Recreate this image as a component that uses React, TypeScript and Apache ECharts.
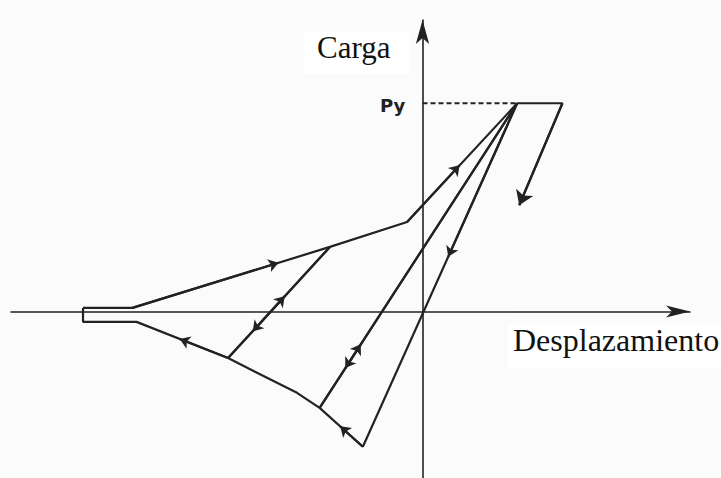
import React, { useEffect, useRef } from "react";
import * as echarts from "echarts";

// Data-space points (displacement, load); Py = 10
const upperEnvelope: number[][] = [[-16.5, 0.17], [-14.1, 0.17], [-4.5, 3.1], [-0.75, 4.3], [4.6, 10]];
const lowerEnvelope: number[][] = [[-16.5, 0.17], [-16.5, -0.5], [-13.9, -0.5], [-9.45, -2.24], [-6.1, -3.91], [-5.0, -4.63], [-2.9, -6.5]];
const reloadA: number[][] = [[-9.45, -2.24], [-4.5, 3.1]];
const reloadB: number[][] = [[-5.0, -4.63], [4.6, 10]];
const reloadC: number[][] = [[-2.9, -6.5], [4.6, 10]];
const yieldPlateau: number[][] = [[4.6, 10], [6.8, 10], [4.7, 5.1]];
const pyLevel: number[][] = [[0, 10], [4.6, 10]];
// arrows: [tail, head]
const arrowMarks: number[][][] = [
  [[-14.1, 0.17], [-7.0, 2.34]],
  [[-0.75, 4.3], [1.8, 7.02]],
  [[-9.45, -2.24], [-6.7, 0.73]],
  [[-4.5, 3.1], [-8.25, -0.95]],
  [[-5.0, -4.63], [-3.0, -1.58]],
  [[4.6, 10], [-3.75, -2.72]],
  [[4.6, 10], [1.25, 2.63]],
  [[-9.45, -2.24], [-11.8, -1.32]],
  [[-2.9, -6.5], [-4.0, -5.52]],
];
const dropArrow: number[][][] = [[[6.8, 10], [4.7, 5.1]]];

const INK = "#222222";

export default function App() {
  const ref = useRef<HTMLDivElement>(null);
  useEffect(() => {
    const chart = echarts.init(ref.current!, null, { renderer: "svg" });
    const plain = (data: number[][], dashed = false) => ({
      type: "line",
      data,
      showSymbol: false,
      symbol: "none",
      silent: true,
      lineStyle: { color: INK, width: 2.2, type: dashed ? [5, 3] : "solid" },
    });
    chart.setOption({
      animation: false,
      backgroundColor: "#fbfbfb",
      grid: { left: 11, right: 31, top: 20, bottom: 0 },
      xAxis: {
        type: "value",
        min: -20,
        max: 13,
        axisLine: { onZero: true, symbol: ["none", "arrow"], symbolSize: [9, 24], lineStyle: { color: INK, width: 1.6 } },
        axisTick: { show: false },
        axisLabel: { show: false },
        splitLine: { show: false },
      },
      yAxis: {
        type: "value",
        min: -8,
        max: 14,
        axisLine: { onZero: true, symbol: ["none", "arrow"], symbolSize: [10, 24], lineStyle: { color: INK, width: 1.6 } },
        axisTick: { show: false },
        axisLabel: { show: false },
        splitLine: { show: false },
      },
      graphic: [
        { type: "rect", shape: { x: 304, y: 32, width: 106, height: 42 }, style: { fill: "#ffffff" }, z: -1 },
        { type: "rect", shape: { x: 508, y: 324, width: 213, height: 44 }, style: { fill: "#ffffff" }, z: -1 },
        {
          type: "text",
          style: { text: "Carga", x: 317, y: 63, font: "31px 'Liberation Serif'", fill: "#111", textVerticalAlign: "bottom" },
        },
        {
          type: "text",
          style: { text: "Desplazamiento", x: 513, y: 356, font: "32px 'Liberation Serif'", fill: "#111", textVerticalAlign: "bottom" },
        },
        {
          type: "text",
          style: { text: "Py", x: 380, y: 105, font: "bold 18px 'DejaVu Sans'", fill: "#222", textVerticalAlign: "middle" },
        },
      ],
      series: [
        plain(upperEnvelope),
        plain(lowerEnvelope),
        plain(reloadA),
        plain(reloadB),
        plain(reloadC),
        plain(yieldPlateau),
        plain(pyLevel, true),
        {
          type: "lines",
          coordinateSystem: "cartesian2d",
          silent: true,
          symbol: ["none", "arrow"],
          symbolSize: [7, 10],
          lineStyle: { color: INK, width: 2.2, opacity: 1 },
          data: arrowMarks.map((c) => ({ coords: c })),
        },
        {
          type: "lines",
          coordinateSystem: "cartesian2d",
          silent: true,
          symbol: ["none", "arrow"],
          symbolSize: [9, 14],
          lineStyle: { color: INK, width: 2.2, opacity: 1 },
          data: dropArrow.map((c) => ({ coords: c })),
        },
      ],
    });
    return () => chart.dispose();
  }, []);
  return <div ref={ref} style={{ position: "fixed", left: 0, top: 0, width: 721, height: 478 }} />;
}
